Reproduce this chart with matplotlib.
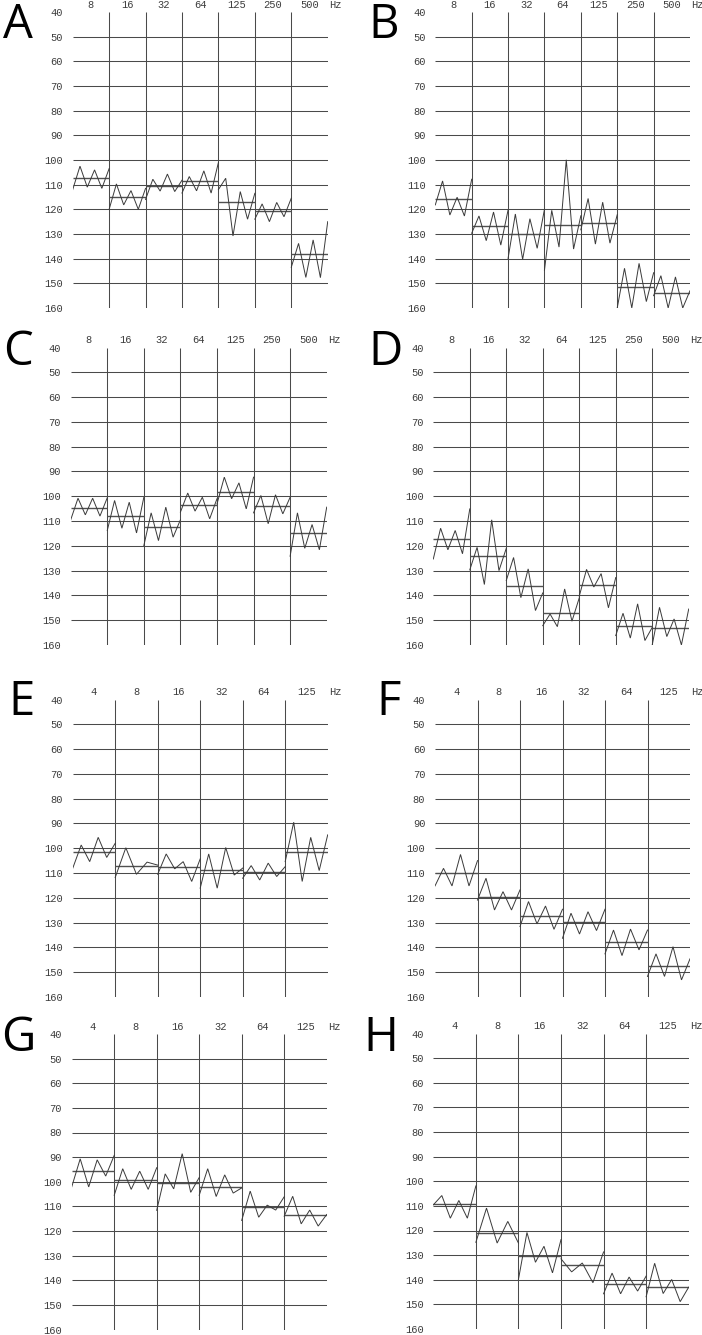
import matplotlib
matplotlib.use("Agg")
import matplotlib.pyplot as plt
import numpy as np

# ---------------- data ----------------
FREQ7 = ["8", "16", "32", "64", "125", "250", "500"]
FREQ6 = ["4", "8", "16", "32", "64", "125"]
YTICKS = list(range(40, 161, 10))

A_vals = [
    [112, 102.5, 111, 104, 111.5, 103.5],
    [120, 109.7, 118.2, 112.4, 120, 111.5],
    [116, 107.8, 112.6, 105.7, 112.8, 108.2],
    [113.4, 106.7, 112.5, 104.4, 113.4, 101],
    [112, 107.4, 130.8, 112.8, 124, 113.5],
    [124, 117.8, 125, 117.2, 123, 115.5],
    [143.5, 133.8, 147.6, 132.4, 147.7, 125],
]
A_means = [107.4, 115.2, 110.5, 108.6, 116.9, 120.6, 138.2]

B_vals = [
    [118.2, 108.5, 122.3, 115.1, 122.7, 107.8],
    [129.7, 122.7, 132.7, 121.1, 134.5, 120.3],
    [139.9, 121.9, 140.3, 123.8, 135.8, 120],
    [144.7, 120.4, 135.3, 99.9, 136.1, 122.6],
    [128.3, 115.6, 134.1, 117.1, 133.7, 122.2],
    [160, 143.9, 160, 141.9, 157.4, 145.7],
    [155, 146.9, 160, 147.4, 160, 153],
]
B_means = [115.9, 126.9, 130.1, 126.5, 125.7, 151.6, 153.9]

C_vals = [
    [109.5, 100.8, 107.5, 100.8, 108, 100.6],
    [113.8, 101.7, 112.9, 102.4, 114.8, 100.4],
    [119.9, 106.7, 117.9, 104.4, 116.5, 109.5],
    [106.4, 98.7, 106, 100.4, 109.1, 101],
    [103.1, 92.3, 101, 94.6, 105.1, 92.3],
    [106.7, 99.7, 111.1, 99.4, 107.1, 100.4],
    [124.2, 106.7, 121, 111.4, 121.6, 104.4],
]
C_means = [104.7, 107.8, 112.5, 103.5, 98.1, 104, 114.9]

D_vals = [
    [125.3, 112.9, 121.6, 113.8, 123.2, 105.1],
    [129.7, 120.6, 135.6, 109.5, 130, 121],
    [134, 124.7, 140.9, 129.3, 146.1, 139],
    [152.2, 147.5, 152.6, 137.4, 150.4, 141],
    [140.3, 129.5, 136.6, 131.2, 145, 132.8],
    [156.2, 147.2, 157.2, 143.4, 158.2, 152.9],
    [160, 144.8, 156.6, 149.5, 160, 145.5],
]
D_means = [117.2, 124.3, 136, 147.1, 135.9, 152.5, 153.3]

E_vals = [
    [108.1, 98.7, 105.4, 95.6, 103.7, 98],
    [111.8, 99.8, 110.5, 105.6, 106.8],
    [110.5, 102.3, 108.3, 105.4, 113.4, 104.3],
    [116.1, 102.3, 116.1, 99.7, 110.8, 108],
    [112.1, 107, 112.8, 106, 111.4, 107.4],
    [105.4, 89.5, 113.4, 95.6, 109, 94.6],
]
E_means = [101.7, 107, 107.7, 108.8, 109.5, 101.5]

F_vals = [
    [115.2, 108.1, 115.2, 102.5, 115.2, 105],
    [120.9, 112.1, 124.9, 117.5, 124.9, 116.8],
    [131.6, 121.5, 130.5, 123.3, 132.7, 124.6],
    [136.3, 126.2, 134.6, 125.6, 133.2, 124.6],
    [142.6, 133, 143.3, 132.6, 141, 133],
    [151.7, 142.6, 151.7, 139.7, 153.1, 144.6],
]
F_means = [110, 119.8, 127.3, 129.9, 137.8, 147.4]

G_vals = [
    [102.1, 90.7, 102.1, 91.1, 97.7, 89.3],
    [105.5, 94.7, 103.1, 95.7, 103.1, 94.3],
    [111.6, 96.8, 102.9, 88.6, 104.3, 98.3],
    [105.5, 94.7, 106, 97.2, 104.6, 102.5],
    [115.7, 103.8, 114.4, 109.5, 111.5, 106.1],
    [114, 105.9, 117.1, 111.5, 118, 113.3],
]
G_means = [95.7, 99.2, 100.5, 102, 110.3, 113.3]

H_vals = [
    [109.6, 105.8, 115, 107.8, 115, 101.9],
    [124.8, 110.9, 125.1, 116.3, 125.1],
    [139.9, 120.8, 132.9, 126.4, 137.2, 123.7],
    [131.5, 136.8, 133.2, 141.2, 128.7],
    [145.7, 137.3, 145.7, 138.9, 144.6, 138.5],
    [146.9, 133.3, 145.6, 139.9, 148.9, 143],
]
H_means = [109.3, 121, 130.2, 134.2, 141.9, 143]

# ---------------- layout ----------------
W, H = 702, 1335
fig = plt.figure(figsize=(W / 100, H / 100), dpi=100)

# (letter, values, means, freq labels, x_left, x_right, y_40, y_160, letter_x, letter_baseline)
panels = [
    ("A", A_vals, A_means, FREQ7, 72.7, 327.7, 12.0, 308.0, 33, 38),
    ("B", B_vals, B_means, FREQ7, 435.3, 690.0, 12.0, 308.0, 399, 38),
    ("C", C_vals, C_means, FREQ7, 70.7, 326.7, 347.5, 645.0, 33, 365),
    ("D", D_vals, D_means, FREQ7, 433.3, 688.7, 347.5, 645.0, 403, 365),
    ("E", E_vals, E_means, FREQ6, 72.7, 327.7, 699.5, 997.0, 35, 715),
    ("F", F_vals, F_means, FREQ6, 435.0, 690.0, 699.5, 997.0, 401, 715),
    ("G", G_vals, G_means, FREQ6, 71.7, 326.7, 1034.0, 1329.5, 36, 1051),
    ("H", H_vals, H_means, FREQ6, 433.3, 688.7, 1033.5, 1329.0, 398, 1051),
]

GRID = "#4a4a4a"
LINE = "#3a3a3a"
MEAN = "#505050"
TXT = "#3c3c3c"
MONO = "Liberation Mono"

for (letter, vals, means, freqs, x0, x1, y40, y160, lx, ly) in panels:
    n = len(vals)
    ax = fig.add_axes([x0 / W, 1 - y160 / H, (x1 - x0) / W, (y160 - y40) / H])
    ax.set_xlim(0, n)
    ax.set_ylim(160, 40)
    for s in ax.spines.values():
        s.set_visible(False)
    ax.patch.set_alpha(0)

    # grid
    for y in YTICKS[1:-1]:
        ax.hlines(y, 0, n, color=GRID, lw=0.75, zorder=1)
    for i in range(1, n):
        ax.vlines(i, 40, 160, color=GRID, lw=0.75, zorder=1)

    # zigzag traces and band means
    for i, (v, m) in enumerate(zip(vals, means)):
        xs = i + np.linspace(0, 1, len(v))
        ax.plot(xs, v, color=LINE, lw=0.7, zorder=3, solid_joinstyle="miter")
        ax.hlines(m, i, i + 1, color=MEAN, lw=1.0, zorder=2)

    # y ticks
    ax.set_yticks(YTICKS)
    ax.set_yticklabels([str(t) for t in YTICKS], family=MONO, fontsize=7.5, color=TXT)
    ax.tick_params(axis="y", length=0, pad=7)

    # top frequency labels
    ax.xaxis.tick_top()
    ax.set_xticks(np.arange(n) + 0.5)
    ax.set_xticklabels(freqs, family=MONO, fontsize=7.5, color=TXT)
    ax.tick_params(axis="x", length=0, pad=1.5)
    ax.annotate("Hz", xy=(n, 40), xytext=(1, 1.5), textcoords="offset points",
                ha="left", va="bottom", family=MONO, fontsize=7.5, color=TXT,
                annotation_clip=False)

    fig.text(lx / W, 1 - ly / H, letter, family="Open Sans", fontsize=34,
             ha="right", va="baseline", color="black")

fig.savefig("out.png", dpi=100)
